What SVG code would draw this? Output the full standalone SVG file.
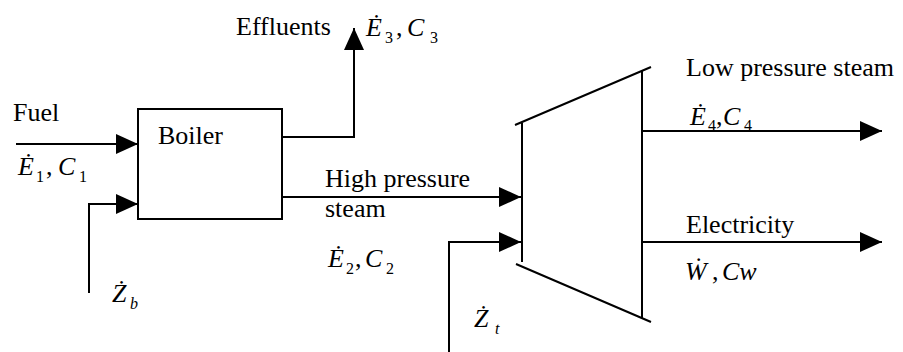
<svg xmlns="http://www.w3.org/2000/svg" width="903" height="352" viewBox="0 0 903 352">
<style>
.ln{stroke:#000;stroke-width:2;fill:none}
.arr{marker-end:url(#ah)}
.t{font-family:'Liberation Serif','DejaVu Serif',serif;font-size:26px;fill:#000}
.m{font-family:'Liberation Serif','DejaVu Serif',serif;font-size:26px;font-style:italic;fill:#000}
.s{font-size:16px;font-style:normal}
.si{font-size:16px}
.up{font-style:normal}
</style>
<defs>
<marker id="ah" markerUnits="userSpaceOnUse" markerWidth="22" markerHeight="20" refX="22" refY="10" orient="auto"><path d="M0,0 L22,10 L0,20 Z" fill="#000"/></marker>
</defs>
<rect width="903" height="352" fill="#fff"/>
<g id="boiler">
<rect class="ln" x="138" y="109" width="144" height="110"/>
<text class="t" x="158" y="144">Boiler</text>
</g>
<g id="turbine">
<path class="ln" d="M522,122 V262 M515,125 L651,67 M642,71 V318 M516,264 L651,322"/>
</g>
<g id="connectors">
<path id="c-fuel" class="ln arr" d="M16,144 H138"/>
<path id="c-zb" class="ln arr" d="M89,293 V204 H138"/>
<path id="c-effluents" class="ln arr" d="M282,137 H354 V28"/>
<path id="c-hp" class="ln arr" d="M282,197 H521"/>
<path id="c-zt" class="ln arr" d="M449,352 V242 H521"/>
<path id="c-lp" class="ln arr" d="M642,131 H882"/>
<path id="c-elec" class="ln arr" d="M642,242 H882"/>
</g>
<g id="labels">
<text class="t" x="13" y="121">Fuel</text>
<text class="t" x="236" y="35">Effluents</text>
<text class="t" x="325" y="187">High pressure</text>
<text class="t" x="325" y="217">steam</text>
<text class="t" x="686" y="76">Low pressure steam</text>
<text class="t" x="686" y="233">Electricity</text>
<text class="m" y="175"><tspan x="18">Ė</tspan><tspan class="s" x="36" y="182">1</tspan><tspan class="up" x="46" y="175">,</tspan><tspan x="58">C</tspan><tspan class="s" x="79" y="182">1</tspan></text>
<text class="m" y="36"><tspan x="366">Ė</tspan><tspan class="s" x="385" y="43">3</tspan><tspan class="up" x="396" y="36">,</tspan><tspan x="407">C</tspan><tspan class="s" x="430" y="43">3</tspan></text>
<text class="m" y="267"><tspan x="328">Ė</tspan><tspan class="s" x="346" y="274">2</tspan><tspan class="up" x="355" y="267">,</tspan><tspan x="365">C</tspan><tspan class="s" x="386" y="274">2</tspan></text>
<text class="m" y="125"><tspan x="690">Ė</tspan><tspan class="s" x="708" y="131">4</tspan><tspan class="up" x="716" y="125">,</tspan><tspan x="723">C</tspan><tspan class="s" x="744" y="131">4</tspan></text>
<text class="m" y="280"><tspan x="685">Ẇ</tspan><tspan class="up" x="712">,</tspan><tspan x="722">Cw</tspan></text>
<text class="m" y="302"><tspan x="112">Ż</tspan><tspan class="si" x="130" y="309">b</tspan></text>
<text class="m" y="327"><tspan x="474">Ż</tspan><tspan class="si" x="495" y="334">t</tspan></text>
</g>
</svg>
